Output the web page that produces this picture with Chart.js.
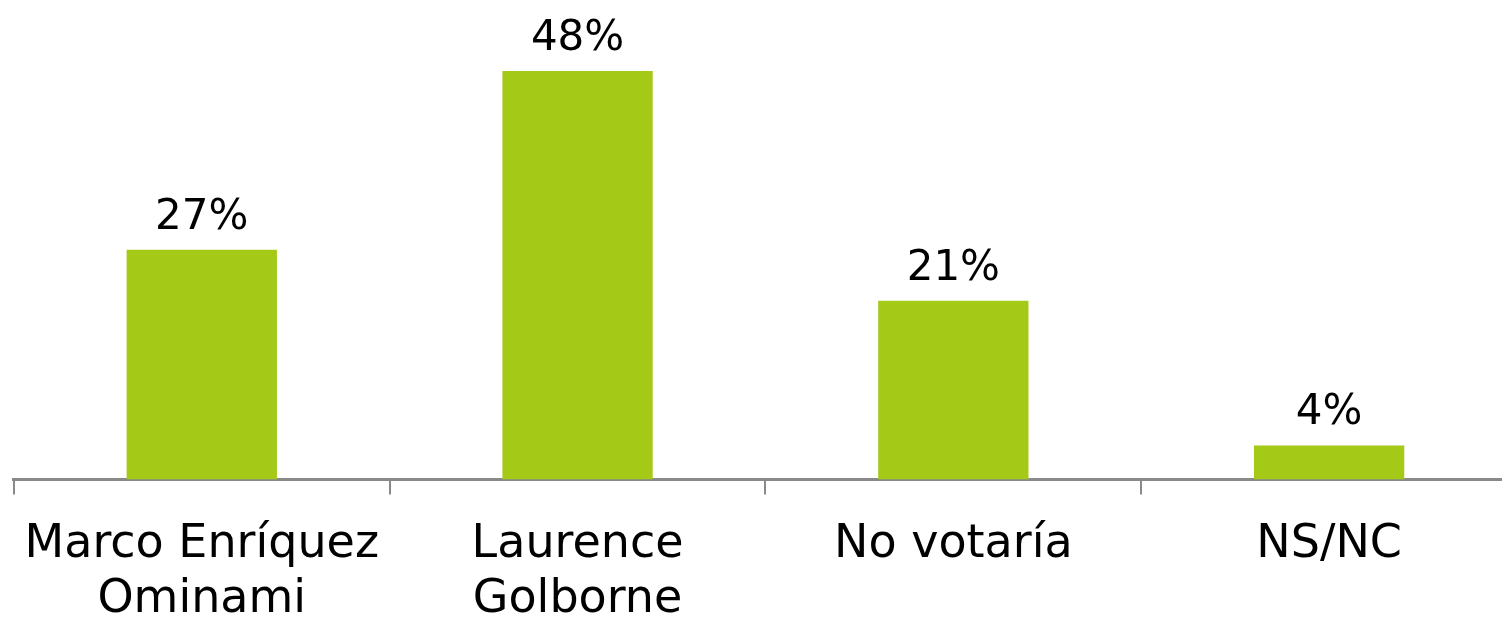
<!DOCTYPE html>
<html>
<head>
<meta charset="utf-8">
<script src="https://cdn.jsdelivr.net/npm/chart.js@4/dist/chart.umd.min.js"></script>
<style>
  html, body { margin: 0; padding: 0; background: #fff; overflow: hidden; }
  #wrap { width: 1520px; height: 651px; position: relative; }
</style>
</head>
<body>
<div id="wrap"><canvas id="chart"></canvas></div>
<script>
// data
var categories = [['Marco Enríquez', 'Ominami'], ['Laurence', 'Golborne'], 'No votaría', 'NS/NC'];
var values = [27, 48, 21, 4];

var FONT = "'DejaVu Sans', sans-serif";

// draws "NN%" above each bar
var valueLabels = {
    id: 'valueLabels',
    afterDatasetsDraw: function (chart) {
        var ctx = chart.ctx;
        var meta = chart.getDatasetMeta(0);
        ctx.save();
        ctx.font = '42px ' + FONT;
        ctx.fillStyle = '#000';
        ctx.textAlign = 'center';
        ctx.textBaseline = 'bottom';
        meta.data.forEach(function (bar, i) {
            ctx.fillText(values[i] + '%', bar.x, bar.y - 11);
        });
        ctx.restore();
    }
};

new Chart(document.getElementById('chart'), {
    type: 'bar',
    data: {
        labels: categories,
        datasets: [{
            data: values,
            backgroundColor: '#a4c917',
            borderWidth: 0,
            barPercentage: 0.4,
            categoryPercentage: 1
        }]
    },
    options: {
        responsive: true,
        maintainAspectRatio: false,
        animation: false,
        layout: { padding: { left: 12, right: 3, top: 54 } },
        plugins: {
            legend: { display: false },
            tooltip: { enabled: false }
        },
        scales: {
            x: {
                grid: {
                    drawOnChartArea: false,
                    drawTicks: true,
                    tickLength: 15,
                    color: '#898989',
                    lineWidth: 2
                },
                border: { color: '#898989', width: 3 },
                ticks: {
                    color: '#000',
                    padding: 23,
                    maxRotation: 0,
                    autoSkip: false,
                    font: { family: FONT, size: 46, lineHeight: 1.2 }
                }
            },
            y: {
                display: false,
                min: 0,
                max: 50
            }
        }
    },
    plugins: [valueLabels]
});
</script>
</body>
</html>
